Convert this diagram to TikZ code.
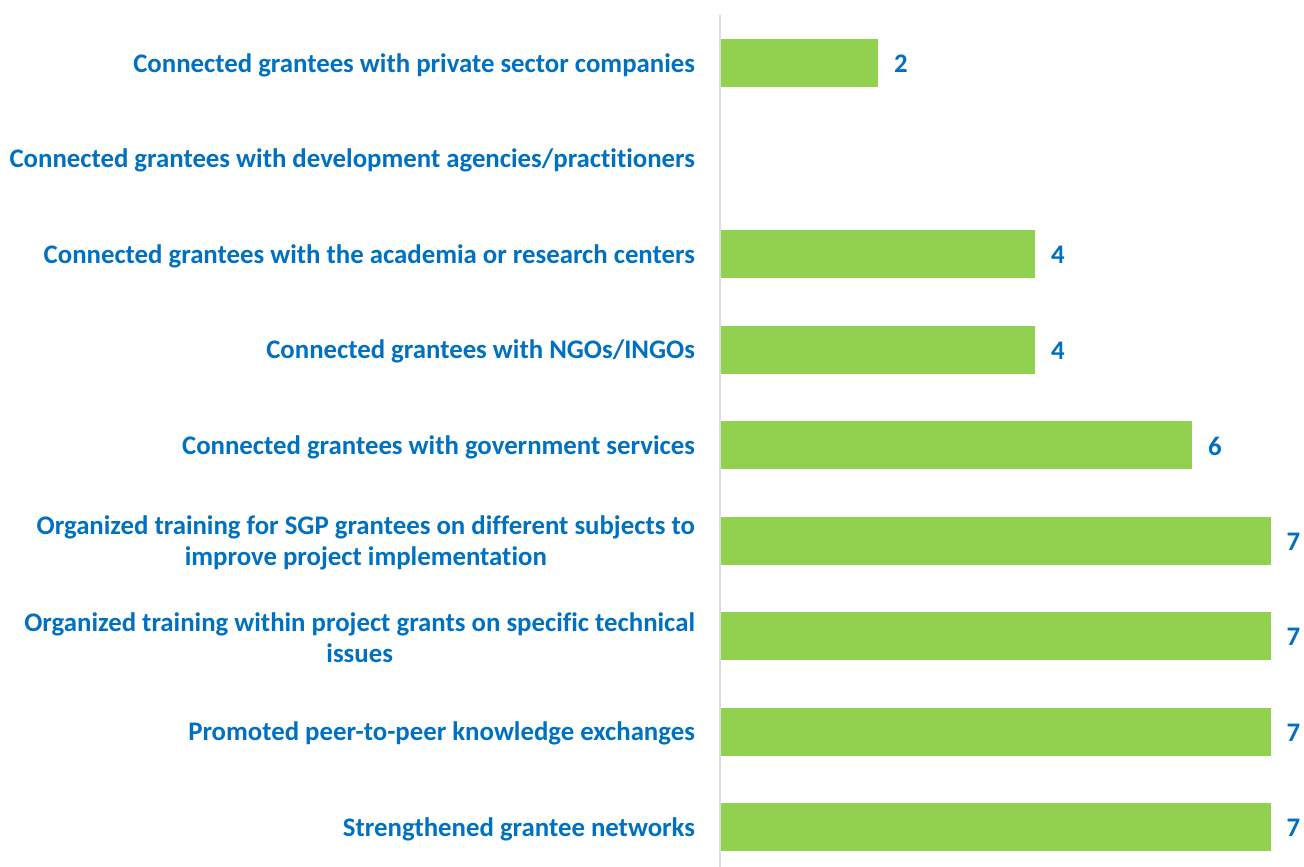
\documentclass[tikz,border=0pt]{standalone}
\usepackage{fontspec}
\setmainfont{Carlito}[Ligatures=NoCommon]
\usetikzlibrary{positioning}
\definecolor{barGreen}{HTML}{92D050}
\definecolor{textBlue}{HTML}{0070C0}
\definecolor{axisGray}{HTML}{D9DDE3}
\begin{document}
\begin{tikzpicture}[
            x=1pt, y=-1pt,
            every node/.style = {inner sep=0pt, outer sep=0pt, text=textBlue, font=\fontsize{26.8}{31}\selectfont\bfseries},
            rowlabel/.style = {anchor=east, align=center, yshift=-2pt},
            bar/.style = {anchor=west, fill=barGreen, minimum height=48pt},
            value/.style = {anchor=west, yshift=-1pt}
          ]
          \useasboundingbox (0,0) rectangle (1304,867);
          % axis
          \coordinate (axistop) at (720,15);
          \coordinate (axisbot) at (720,867);
          \draw[axisGray, line width=1.5pt] (axistop) -- (axisbot);
          % labels
          \foreach \t [count=\i] in {
              Connected grantees with private sector companies,
              Connected grantees with development agencies/practitioners,
              Connected grantees with the academia or research centers,
              Connected grantees with NGOs/INGOs,
              Connected grantees with government services,
              {Organized training for SGP grantees on different subjects to\\improve project implementation},
              {Organized training within project grants on specific technical\\issues},
              Promoted peer-to-peer knowledge exchanges,
              Strengthened grantee networks}
            \node[rowlabel] (l\i) at (695, {63+95.5*(\i-1)}) {\t};
          % bars and values
          \foreach \i/\v in {1/2, 3/4, 4/4, 5/6, 6/7, 7/7, 8/7, 9/7} {
            \node[bar, minimum width={\v*78.5pt}] (b\i) at (721, {63+95.5*(\i-1)}) {};
            \node[value, right=16pt of b\i] (v\i) {\v};
          }
        \end{tikzpicture}
\end{document}
